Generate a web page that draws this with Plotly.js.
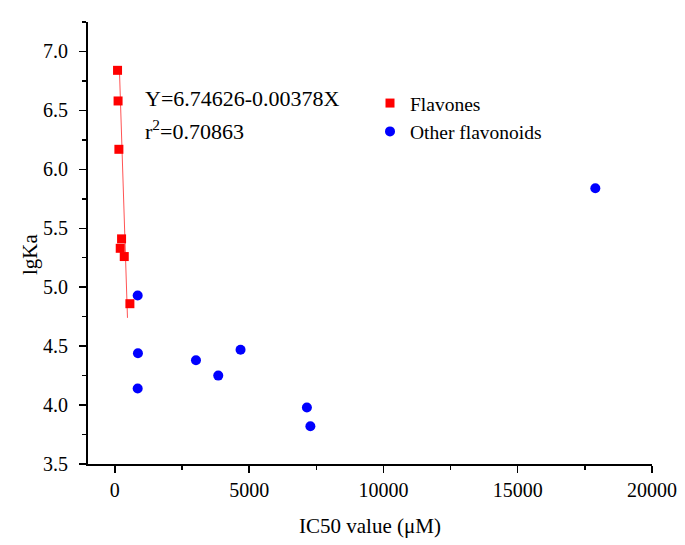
<!DOCTYPE html>
<html>
<head>
<meta charset="utf-8">
<script src="https://cdn.plot.ly/plotly-3.0.1.min.js"></script>
<style>html,body{margin:0;padding:0;background:#fff;}</style>
</head>
<body>
<div id="chart" style="width:685px;height:545px;"></div>
<script>
// Flavones (red squares)
var flavIC50 = [100, 120, 150, 250, 200, 350, 560];
var flavLgKa = [6.84, 6.58, 6.17, 5.41, 5.33, 5.26, 4.86];
// Other flavonoids (blue circles)
var otherIC50 = [850, 860, 850, 3020, 3850, 4680, 7150, 7280, 17890];
var otherLgKa = [4.93, 4.44, 4.14, 4.38, 4.25, 4.47, 3.98, 3.82, 5.84];
// Fitted line for flavones (as drawn)
var fitIC50 = [170, 470];
var fitLgKa = [6.85, 4.74];
var eqLines = ["Y=6.74626-0.00378X", "r<sup>2</sup>=0.70863"];
var xTicks = [0, 5000, 10000, 15000, 20000];
var yTicks = [3.5, 4.0, 4.5, 5.0, 5.5, 6.0, 6.5, 7.0];

var font = "Liberation Serif, Times New Roman, serif";

var traces = [
  {x: fitIC50, y: fitLgKa, mode: 'lines', line: {color: 'rgba(255,40,40,0.8)', width: 1}, showlegend: false, hoverinfo: 'skip'},
  {x: flavIC50, y: flavLgKa, mode: 'markers', name: 'Flavones', marker: {symbol: 'square', size: 9, color: '#ff0000'}},
  {x: otherIC50, y: otherLgKa, mode: 'markers', name: 'Other flavonoids', marker: {symbol: 'circle', size: 10, color: '#0000ff'}}
];

function py(p) { return (464 - p) / 442; }
function px(p) { return (p - 88) / 564; }

var annotations = [
  {xref: 'paper', yref: 'paper', x: px(143), y: py(98), xanchor: 'left', yanchor: 'middle', showarrow: false,
   text: eqLines[0], font: {family: font, size: 22, color: '#000'}},
  {xref: 'paper', yref: 'paper', x: px(143), y: py(130), xanchor: 'left', yanchor: 'middle', showarrow: false,
   text: eqLines[1], font: {family: font, size: 22, color: '#000'}},
  {xref: 'paper', yref: 'paper', x: px(30), y: py(254), xanchor: 'center', yanchor: 'middle', showarrow: false,
   textangle: -90, text: 'lgKa', font: {family: font, size: 21, color: '#000'}}
];

var layout = {
  width: 685, height: 545,
  margin: {l: 88, r: 33, t: 22, b: 81},
  paper_bgcolor: '#fff', plot_bgcolor: '#fff',
  font: {family: font, color: '#000', size: 20},
  showlegend: true,
  legend: {x: 0.5, y: 0.86, xanchor: 'left', yanchor: 'top', bgcolor: 'rgba(0,0,0,0)', font: {family: font, size: 19.5}},
  xaxis: {
    range: [-1000, 20000], tickvals: xTicks, ticktext: xTicks.map(String),
    showgrid: false, zeroline: false, showline: true, linecolor: '#000', linewidth: 2,
    ticks: 'outside', ticklen: 7, tickwidth: 1.5, tickcolor: '#000',
    minor: {dtick: 2500, tick0: 0, ticks: 'outside', ticklen: 4, tickwidth: 1.5, tickcolor: '#000', showgrid: false},
    tickfont: {family: font, size: 20},
    title: {text: 'IC50 value (μM)', font: {family: font, size: 21}, standoff: 18}
  },
  yaxis: {
    range: [3.5, 7.25], tickvals: yTicks, ticktext: yTicks.map(function(v){return v.toFixed(1);}),
    showgrid: false, zeroline: false, showline: true, linecolor: '#000', linewidth: 2,
    ticks: 'outside', ticklen: 7, tickwidth: 1.5, tickcolor: '#000', ticklabelstandoff: 7,
    minor: {dtick: 0.25, tick0: 0, ticks: 'outside', ticklen: 4, tickwidth: 1.5, tickcolor: '#000', showgrid: false},
    tickfont: {family: font, size: 20}
  },
  annotations: annotations
};

Plotly.newPlot('chart', traces, layout, {displayModeBar: false, staticPlot: true});
</script>
</body>
</html>
